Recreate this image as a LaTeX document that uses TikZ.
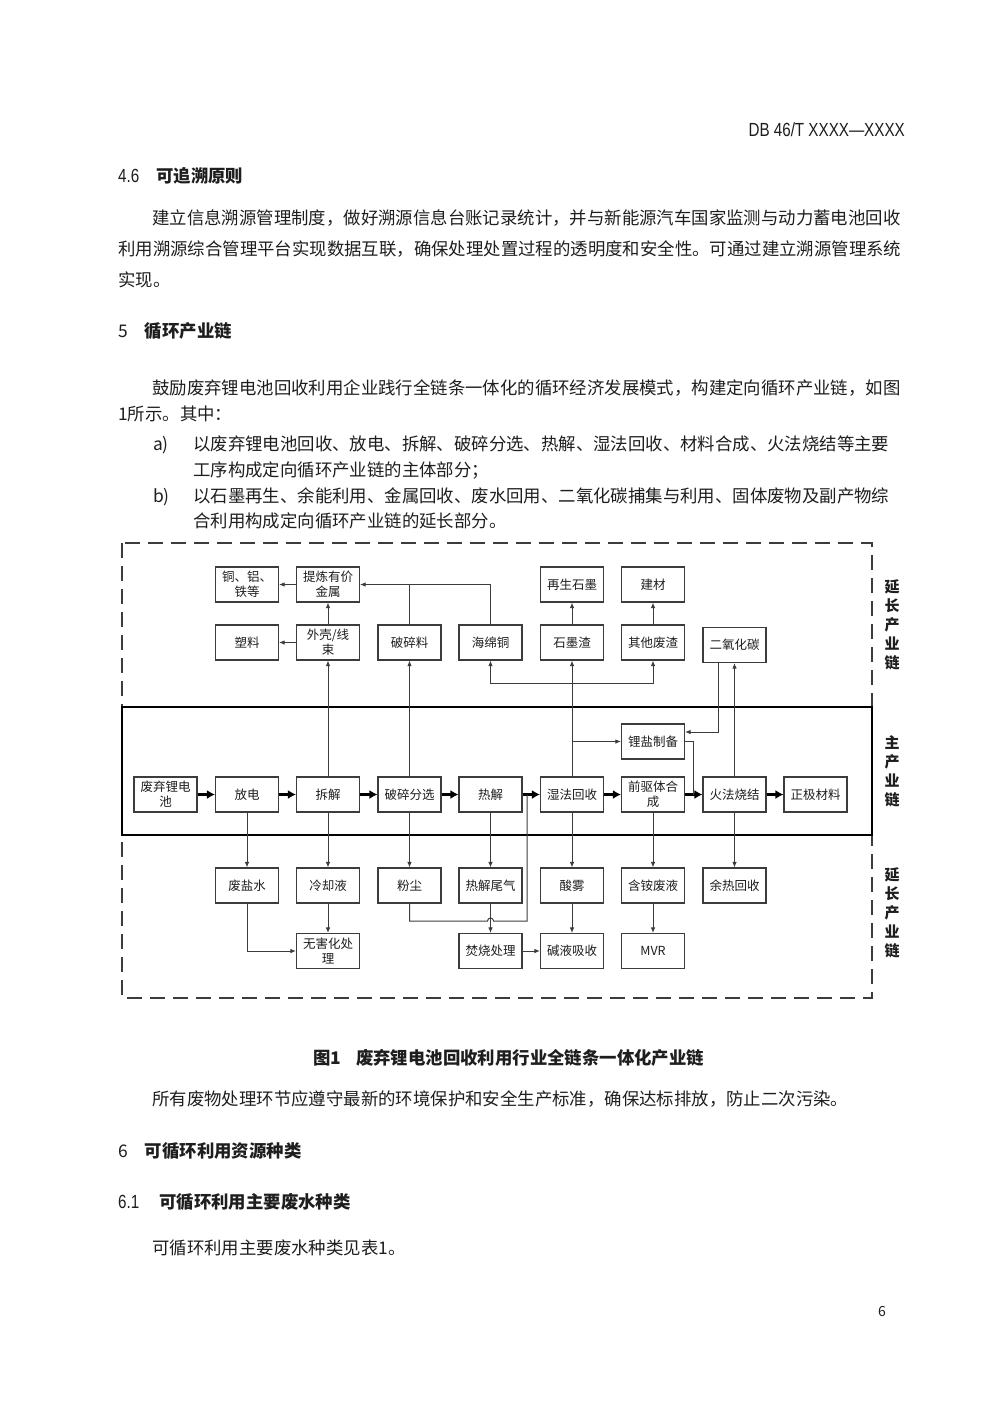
\documentclass[tikz,border=0pt]{standalone}
\usepackage{fontspec}
\setmainfont{Noto Sans CJK SC}
\newfontfamily\narrowsans[FakeStretch=0.8]{Liberation Sans}
\usetikzlibrary{arrows.meta}
\definecolor{ink}{RGB}{30,30,30}
\definecolor{lin}{RGB}{60,60,60}
\XeTeXlinebreaklocale "zh"
\XeTeXlinebreakskip=0pt plus 2pt
\newcommand\jline[2]{\hbox to #1{#2}}
\begin{document}
\begin{tikzpicture}[x=1pt,y=-1pt,
  pbox/.style={draw=lin, line width=1.1pt, minimum width=63pt, minimum height=35pt, inner sep=1pt, align=center, font=\fontsize{12.5}{15}\selectfont, text=ink},
  arr/.style={draw=lin, line width=1pt, -{Latex[length=5.5pt,width=4.5pt]}},
  ln/.style={draw=lin, line width=1pt},
  mainarr/.style={draw=black, line width=2.6pt, -{Latex[length=8pt,width=9pt]}},
  body/.style={anchor=west, inner sep=0pt, font=\fontsize{17.4}{20}\selectfont, text=ink, text height=15pt, text depth=3pt},
  head/.style={anchor=west, inner sep=0pt, font=\fontsize{17.4}{20}\selectfont\bfseries, text=ink, text height=15pt, text depth=3pt},
  side/.style={align=center, inner sep=0pt, font=\fontsize{15}{19}\selectfont\bfseries, text=ink},
]
\useasboundingbox (0,0) rectangle (1000,1414);
\fill[white] (0,0) rectangle (1000,1414);

% ---------- page text ----------
\node[anchor=east, inner sep=0pt, font=\narrowsans\fontsize{19}{21}\selectfont, text=ink] (hdr) at (905,130) {DB 46/T XXXX—XXXX};
\node[head] (h46) at (118,176) {{\narrowsans\mdseries\fontsize{19}{21}\selectfont 4.6}\hspace{17pt}可追溯原则};
\node[body] (p1) at (152,218) {\jline{753pt}{建立信息溯源管理制度，做好溯源信息台账记录统计，并与新能源汽车国家监测与动力蓄电池回收}};
\node[body] (p2) at (118,249) {\jline{787pt}{利用溯源综合管理平台实现数据互联，确保处理处置过程的透明度和安全性。可通过建立溯源管理系统}};
\node[body] (p3) at (118,280) {实现。};
\node[head] (h5) at (118,331) {{\mdseries 5}\hspace{17pt}循环产业链};
\node[body] (p4) at (152,388) {\jline{753pt}{鼓励废弃锂电池回收利用企业践行全链条一体化的循环经济发展模式，构建定向循环产业链，如图}};
\node[body] (p5) at (118,414) {1所示。其中：};
\node[body] (ia) at (153,444) {a)};
\node[body] (pa1) at (193,444) {\jline{712pt}{以废弃锂电池回收、放电、拆解、破碎分选、热解、湿法回收、材料合成、火法烧结等主要}};
\node[body] (pa2) at (193,470) {工序构成定向循环产业链的主体部分；};
\node[body] (ib) at (153,496) {b)};
\node[body] (pb1) at (193,496) {\jline{712pt}{以石墨再生、余能利用、金属回收、废水回用、二氧化碳捕集与利用、固体废物及副产物综}};
\node[body] (pb2) at (193,521) {合利用构成定向循环产业链的延长部分。};

\node[head] (cap) at (313,1058) {图1\hspace{15pt}废弃锂电池回收利用行业全链条一体化产业链};
\node[body] (p6) at (152,1099) {所有废物处理环节应遵守最新的环境保护和安全生产标准，确保达标排放，防止二次污染。};
\node[head] (h6) at (118,1151) {{\mdseries 6}\hspace{17pt}可循环利用资源种类};
\node[head] (h61) at (118,1202) {{\narrowsans\mdseries\fontsize{19}{21}\selectfont 6.1}\hspace{20pt}可循环利用主要废水种类};
\node[body] (p7) at (152,1248) {可循环利用主要废水种类见表1。};
\node[inner sep=0pt, font=\fontsize{14}{16}\selectfont, text=ink] (pg) at (882,1311) {6};

% ---------- frames ----------
\draw[lin, line width=1.3pt, dash pattern=on 15pt off 8pt] (122,543) rectangle (872,998);
\draw[black, line width=2.6pt] (122,707) rectangle (872,835);

\node[side] (s1) at (892,625) {延\\长\\产\\业\\链};
\node[side] (s2) at (892,771) {主\\产\\业\\链};
\node[side] (s3) at (892,913) {延\\长\\产\\业\\链};

% ---------- nodes ----------
% row A
\node[pbox] (cu)  at (247,584.5) {铜、铝、\\铁等};
\node[pbox] (tl)  at (328,584.5) {提炼有价\\金属};
\node[pbox] (zs)  at (572,584.5) {再生石墨};
\node[pbox] (jc)  at (653,584.5) {建材};
% row B
\node[pbox] (sl)  at (247,642.5) {塑料};
\node[pbox] (wk)  at (328,642.5) {外壳/线\\束};
\node[pbox] (psl) at (409.5,642.5) {破碎料};
\node[pbox] (hmt) at (490.5,642.5) {海绵铜};
\node[pbox] (smz) at (572,642.5) {石墨渣};
\node[pbox] (qt)  at (653,642.5) {其他废渣};
\node[pbox] (co2) at (734.5,645) {二氧化碳};
% lithium salt
\node[pbox] (lyzb) at (653,741.5) {锂盐制备};
% main chain
\node[pbox] (m1) at (165.5,794.5) {废弃锂电\\池};
\node[pbox] (m2) at (247,794.5) {放电};
\node[pbox] (m3) at (328,794.5) {拆解};
\node[pbox] (m4) at (409.5,794.5) {破碎分选};
\node[pbox] (m5) at (490.5,794.5) {热解};
\node[pbox] (m6) at (572,794.5) {湿法回收};
\node[pbox] (m7) at (653,794.5) {前驱体合\\成};
\node[pbox] (m8) at (734.5,794.5) {火法烧结};
\node[pbox] (m9) at (815.5,794.5) {正极材料};
% row C
\node[pbox] (fys)  at (247,885.5) {废盐水};
\node[pbox] (lqy)  at (328,885.5) {冷却液};
\node[pbox] (fc)   at (409.5,885.5) {粉尘};
\node[pbox] (rjwq) at (490.5,885.5) {热解尾气};
\node[pbox] (sw)   at (572,885.5) {酸雾};
\node[pbox] (ahfy) at (653,885.5) {含铵废液};
\node[pbox] (yrhs) at (734.5,885.5) {余热回收};
% row D
\node[pbox] (whh) at (328,951) {无害化处\\理};
\node[pbox] (fs)  at (490.5,951) {焚烧处理};
\node[pbox] (jy)  at (572,951) {碱液吸收};
\node[pbox] (mvr) at (653,951) {MVR};

% ---------- main chain arrows ----------
\draw[mainarr] (m1) -- (m2);
\draw[mainarr] (m2) -- (m3);
\draw[mainarr] (m3) -- (m4);
\draw[mainarr] (m4) -- (m5);
\draw[mainarr] (m5) -- (m6);
\draw[mainarr] (m6) -- (m7);
\draw[mainarr] (m7) -- (m8);
\draw[mainarr] (m8) -- (m9);

% ---------- upper connectors ----------
\draw[arr] (m3.north) -- (wk.south);
\draw[arr] (wk.north) -- (tl.south);
\draw[arr] (wk.west) -- (sl.east);
\draw[arr] (tl.west) -- (cu.east);
\draw[arr] (m4.north) -- (psl.south);
\draw[arr] (hmt.north) |- (tl.east);
\draw[ln] (psl.north) -- (psl.north |- tl.east);
\draw[arr] (m6.north) -- (smz.south);
\coordinate (j1) at (572,683);
\draw[arr] (j1) -| (hmt.south);
\draw[arr] (j1) -| (qt.south);
\draw[arr] (m6.north |- lyzb.west) -- (lyzb.west);
\draw[arr] (smz.north) -- (zs.south);
\draw[arr] (qt.north) -- (jc.south);
\draw[arr] (m8.north) -- (co2.south);
\coordinate (c2a) at (718,662.5);
\coordinate (c2b) at (718,732);
\draw[arr] (c2a) -- (c2b) -- (lyzb.east |- c2b);
\coordinate (lz1) at (693,741.5);
\coordinate (lz2) at (693,794.5);
\draw[ln] (lyzb.east) -- (lz1) -- (lz2);

% ---------- lower connectors ----------
\draw[arr] (m2.south) -- (fys.north);
\draw[arr] (fys.south) |- (whh.west);
\draw[arr] (m3.south) -- (lqy.north);
\draw[arr] (lqy.south) -- (whh.north);
\draw[arr] (m4.south) -- (fc.north);
\draw[arr] (m5.south) -- (rjwq.north);
\draw[arr] (rjwq.south) -- (fs.north);
\coordinate (d1) at (409.5,921);
\coordinate (d2) at (487.5,921);
\coordinate (d3) at (527,921);
\coordinate (d4) at (527,794.5);
\draw[ln] (fc.south) -- (d1) -- (d2) arc[start angle=180, end angle=360, radius=3] -- (d3) -- (d4);
\draw[arr] (m6.south) -- (sw.north);
\draw[arr] (sw.south) -- (jy.north);
\draw[arr] (fs.east) -- (jy.west);
\draw[arr] (m7.south) -- (ahfy.north);
\draw[arr] (ahfy.south) -- (mvr.north);
\draw[arr] (m8.south) -- (yrhs.north);
\end{tikzpicture}
\end{document}
